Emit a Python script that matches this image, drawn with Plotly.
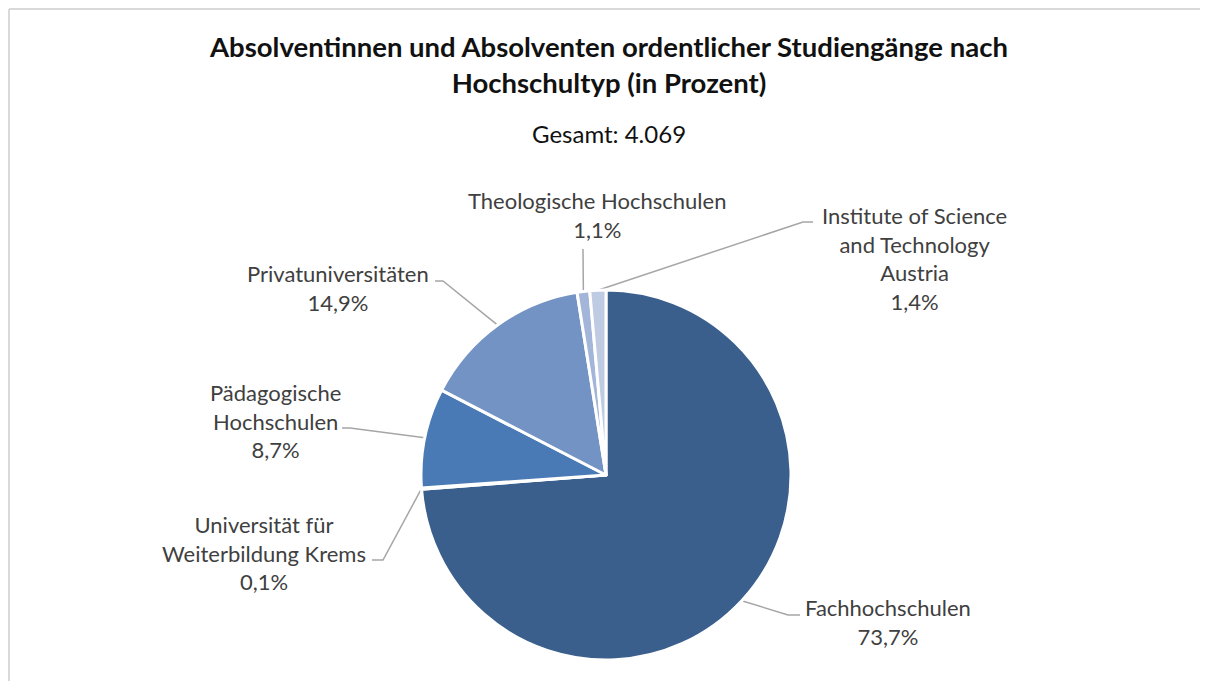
import math
import plotly.graph_objects as go

# data
categories = ["Fachhochschulen", "Universität für Weiterbildung Krems",
              "Pädagogische Hochschulen", "Privatuniversitäten",
              "Theologische Hochschulen",
              "Institute of Science and Technology Austria"]
shares = [73.7, 0.1, 8.7, 14.9, 1.1, 1.4]
label_lines = [["Fachhochschulen"],
               ["Universität für", "Weiterbildung Krems"],
               ["Pädagogische", "Hochschulen"],
               ["Privatuniversitäten"],
               ["Theologische Hochschulen"],
               ["Institute of Science", "and Technology", "Austria"]]
colors = ["#3A5F8D", "#2F4F78", "#4A7AB5", "#7393C4", "#A3B6D9", "#BFCBE3"]
total = "4.069"

# page is offset by the 8px body margin; work in window pixel coords
OFF = 8
W, H = 1208, 689
CX, CY, R = 606, 475, 185

# label layout (pixel positions of text block and leader elbow/end)
text_pos = [(888, 622), (264, 553), (275, 421), (338, 288), (597, 215), (914, 258)]
elbows = [[(788, 615), (800, 615)],
          [(383, 560), (372, 560)],
          [(350, 428), (342, 428)],
          [(443, 281), (435, 281)],
          [(583, 249)],
          [(803, 222), (813, 222)]]

FONT = "Lato"
GREY = "#404040"

fig = go.Figure()

fw, fh = W - 2 * OFF, H - 2 * OFF
fig.add_trace(go.Pie(
    labels=categories, values=shares, sort=False, direction="clockwise",
    rotation=0, textinfo="none", hoverinfo="label+percent",
    marker=dict(colors=colors, line=dict(color="white", width=3)),
    domain=dict(x=[(CX - R - OFF) / fw, (CX + R - OFF) / fw],
                y=[(OFF + fh - CY - R) / fh, (OFF + fh - CY + R) / fh]),
    showlegend=False,
))

# leader lines from slice mid-angle on the rim
tot = sum(shares)
cum = 0
for i, v in enumerate(shares):
    mid = (cum + v / 2) / tot * 2 * math.pi
    cum += v
    px = CX + R * math.sin(mid)
    py = CY - R * math.cos(mid)
    xs = [px] + [p[0] for p in elbows[i]]
    ys = [py] + [p[1] for p in elbows[i]]
    fig.add_trace(go.Scatter(x=xs, y=ys, mode="lines",
                             line=dict(color="#A6A6A6", width=1.5),
                             hoverinfo="skip", showlegend=False))
    txt = "<br>".join(label_lines[i] + [f"{v:.1f}%".replace(".", ",")])
    fig.add_annotation(x=text_pos[i][0], y=text_pos[i][1], xref="x", yref="y",
                       text=txt, showarrow=False, align="center",
                       xanchor="center", yanchor="middle",
                       font=dict(family=FONT, size=22, color=GREY))

fig.add_annotation(x=608, y=64, xref="x", yref="y",
                   text="<b>Absolventinnen und Absolventen ordentlicher Studiengänge nach<br>Hochschultyp (in Prozent)</b>",
                   showarrow=False, align="center", xanchor="center", yanchor="middle",
                   font=dict(family=FONT, size=27.5, color="#111111"))
fig.add_annotation(x=609, y=133, xref="x", yref="y", text=f"Gesamt: {total}",
                   showarrow=False, xanchor="center", yanchor="middle",
                   font=dict(family=FONT, size=24, color="#111111"))

# chart frame: only top and left edges are visible in the window
fig.add_shape(type="line", xref="x", yref="y", x0=9, y0=9, x1=W + 20, y1=9,
              line=dict(color="#D9D9D9", width=2), layer="below")
fig.add_shape(type="line", xref="x", yref="y", x0=9, y0=9, x1=9, y1=H + 20,
              line=dict(color="#D9D9D9", width=2), layer="below")

fig.update_layout(
    width=fw, height=fh, margin=dict(l=0, r=0, t=0, b=0),
    paper_bgcolor="white", plot_bgcolor="white",
    xaxis=dict(range=[OFF, OFF + fw], visible=False, fixedrange=True),
    yaxis=dict(range=[OFF + fh, OFF], visible=False, fixedrange=True),
)

fig.write_html("out.html")
